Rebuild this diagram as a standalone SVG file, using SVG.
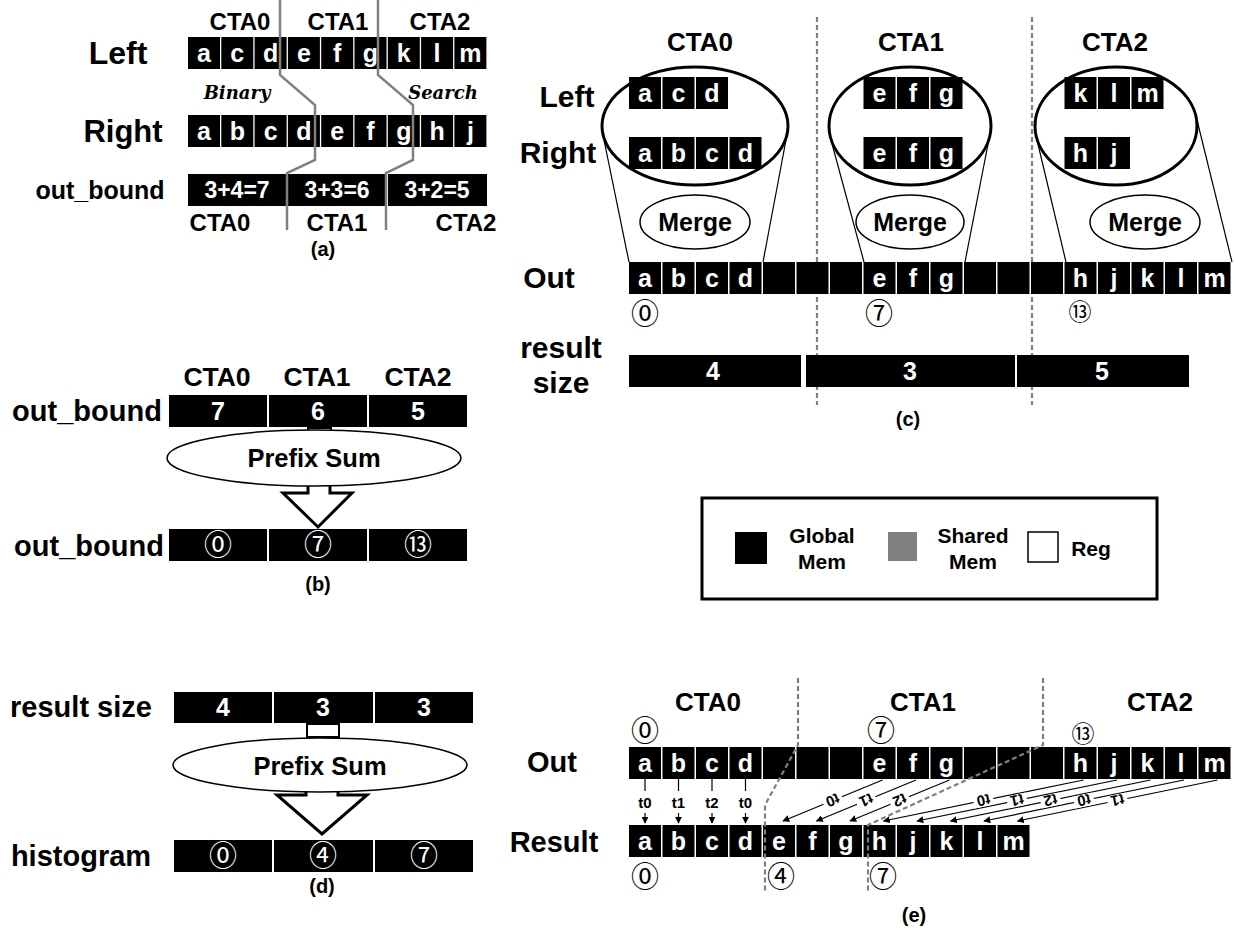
<svg xmlns="http://www.w3.org/2000/svg" width="1235" height="934" viewBox="0 0 1235 934">
<defs>
<style>
text{font-family:"Liberation Sans",Arial,sans-serif;font-weight:bold;fill:#000}
.c{fill:#000}
.w{fill:#fff;font-size:25px;text-anchor:middle}
.m{text-anchor:middle}
.cta{font-size:26px;text-anchor:middle}
.lab{font-size:30px;text-anchor:middle}
.cap{font-size:20px;text-anchor:middle}
.circ{font-family:"Noto Sans CJK JP","DejaVu Serif",serif;font-weight:normal;text-anchor:middle}
.gl{fill:none;stroke:#808080;stroke-width:2.5}
.dash{fill:none;stroke:#808080;stroke-width:2.2;stroke-dasharray:5 3}
.thin{fill:none;stroke:#000;stroke-width:1.2}
.ell{fill:#fff;stroke:#000;stroke-width:1.5}
.big{fill:#fff;stroke:#000;stroke-width:3}
.ar{fill:none;stroke:#000;stroke-width:1.2}
.tl{font-size:15px;text-anchor:middle}
.script{font-family:"DejaVu Serif",serif;font-style:italic;font-weight:bold;font-size:18px;text-anchor:middle}
.leg{font-size:21px;text-anchor:middle}
</style>
<marker id="ah" viewBox="0 0 10 10" refX="9" refY="5" markerWidth="7" markerHeight="7" markerUnits="userSpaceOnUse" orient="auto"><path d="M0,0 L10,5 L0,10 z" fill="#000"/></marker>
</defs>
<rect width="1235" height="934" fill="#fff"/>

<!-- ===== Panel (a) ===== -->
<g id="panel-a">
<text class="cta" style="font-size:24px" x="240" y="30">CTA0</text>
<text class="cta" style="font-size:24px" x="338" y="30">CTA1</text>
<text class="cta" style="font-size:24px" x="440" y="30">CTA2</text>
<text class="lab" style="font-size:32px" x="118" y="64">Left</text>
<text class="lab" style="font-size:31px" x="123" y="142">Right</text>
<text class="m" style="font-size:25px" x="100" y="199">out_bound</text>
<g id="a-left">
<rect class="c" x="188" y="37" width="32" height="32"/><rect class="c" x="221.3" y="37" width="32" height="32"/><rect class="c" x="254.6" y="37" width="32" height="32"/><rect class="c" x="287.9" y="37" width="32" height="32"/><rect class="c" x="321.2" y="37" width="32" height="32"/><rect class="c" x="354.5" y="37" width="32" height="32"/><rect class="c" x="387.8" y="37" width="32" height="32"/><rect class="c" x="421.1" y="37" width="32" height="32"/><rect class="c" x="454.4" y="37" width="32" height="32"/>
<text class="w" x="204" y="62">a</text><text class="w" x="237.3" y="62">c</text><text class="w" x="270.6" y="62">d</text><text class="w" x="303.9" y="62">e</text><text class="w" x="337.2" y="62">f</text><text class="w" x="370.5" y="62">g</text><text class="w" x="403.8" y="62">k</text><text class="w" x="437.1" y="62">l</text><text class="w" x="470.4" y="62">m</text>
</g>
<g id="a-right">
<rect class="c" x="188" y="115" width="32" height="32"/><rect class="c" x="221.3" y="115" width="32" height="32"/><rect class="c" x="254.6" y="115" width="32" height="32"/><rect class="c" x="287.9" y="115" width="32" height="32"/><rect class="c" x="321.2" y="115" width="32" height="32"/><rect class="c" x="354.5" y="115" width="32" height="32"/><rect class="c" x="387.8" y="115" width="32" height="32"/><rect class="c" x="421.1" y="115" width="32" height="32"/><rect class="c" x="454.4" y="115" width="32" height="32"/>
<text class="w" x="204" y="140">a</text><text class="w" x="237.3" y="140">b</text><text class="w" x="270.6" y="140">c</text><text class="w" x="303.9" y="140">d</text><text class="w" x="337.2" y="140">e</text><text class="w" x="370.5" y="140">f</text><text class="w" x="403.8" y="140">g</text><text class="w" x="437.1" y="140">h</text><text class="w" x="470.4" y="140">j</text>
</g>
<g id="a-bound">
<rect class="c" x="188" y="174" width="98" height="32"/><rect class="c" x="288" y="174" width="98" height="32"/><rect class="c" x="388" y="174" width="99" height="32"/>
<text class="w" style="font-size:23px" x="237" y="198">3+4=7</text><text class="w" style="font-size:23px" x="337" y="198">3+3=6</text><text class="w" style="font-size:23px" x="437" y="198">3+2=5</text>
</g>
<text class="script" x="237" y="99">Binary</text>
<text class="script" x="443" y="99">Search</text>
<text class="cta" style="font-size:24px" x="220" y="231">CTA0</text>
<text class="cta" style="font-size:24px" x="337" y="231">CTA1</text>
<text class="cta" style="font-size:24px" x="466" y="231">CTA2</text>
<text class="cap" x="323" y="256">(a)</text>
</g>

<!-- ===== Panel (b) ===== -->
<g id="panel-b">
<text class="cta" style="font-size:26.5px" x="217" y="386">CTA0</text>
<text class="cta" style="font-size:26.5px" x="317" y="386">CTA1</text>
<text class="cta" style="font-size:26.5px" x="418" y="386">CTA2</text>
<text class="m" style="font-size:29px" x="87" y="421">out_bound</text>
<g id="b-row1">
<rect class="c" x="169" y="395" width="98" height="32"/><rect class="c" x="269" y="395" width="98" height="32"/><rect class="c" x="369" y="395" width="98" height="32"/>
<text class="w" style="font-size:25px" x="218" y="420">7</text><text class="w" style="font-size:25px" x="318" y="420">6</text><text class="w" style="font-size:25px" x="418" y="420">5</text>
</g>
<g id="b-prefix">
<rect x="308" y="428" width="23" height="6" fill="#fff" stroke="#000" stroke-width="2"/>
<path class="big" d="M308,484 V493 H283 L318,527 L352,493 H330 V484"/>
<ellipse class="ell" cx="314" cy="458" rx="147" ry="28"/>
<text class="m" style="font-size:25.5px" x="314" y="467">Prefix Sum</text>
</g>
<text class="m" style="font-size:29px" x="89" y="556">out_bound</text>
<g id="b-row2">
<rect class="c" x="169" y="529" width="98" height="32"/><rect class="c" x="269" y="529" width="98" height="32"/><rect class="c" x="369" y="529" width="98" height="32"/>
<text class="circ" style="font-size:28px;fill:#fff" x="218" y="555">⓪</text><text class="circ" style="font-size:28px;fill:#fff" x="318" y="555">⑦</text><text class="circ" style="font-size:28px;fill:#fff" x="418" y="555">⑬</text>
</g>
<text class="cap" x="318" y="591">(b)</text>
</g>

<!-- ===== Panel (c) ===== -->
<g id="panel-c">
<line class="dash" x1="817" y1="17" x2="817" y2="405"/>
<line class="dash" x1="1032" y1="17" x2="1032" y2="405"/>
<text class="cta" x="700" y="51">CTA0</text>
<text class="cta" x="911" y="51">CTA1</text>
<text class="cta" x="1115" y="51">CTA2</text>
<text class="lab" x="567" y="107">Left</text>
<text class="lab" x="558" y="163">Right</text>
<text class="lab" x="549" y="288">Out</text>
<text class="lab" x="561" y="358">result</text>
<text class="lab" x="561" y="393">size</text>
<g class="thin">
<line x1="604" y1="140" x2="629" y2="262"/><line x1="786" y1="140" x2="763" y2="262"/>
<line x1="831" y1="140" x2="864" y2="262"/><line x1="990" y1="134" x2="965" y2="262"/>
<line x1="1037" y1="140" x2="1066" y2="262"/><line x1="1196" y1="116" x2="1232" y2="262"/>
</g>
<g id="c-cta0">
<ellipse cx="695" cy="126" rx="93" ry="59" fill="#fff" stroke="#000" stroke-width="3"/>
<rect class="c" x="629" y="77" width="32" height="32"/><rect class="c" x="662.5" y="77" width="32" height="32"/><rect class="c" x="696" y="77" width="32" height="32"/>
<text class="w" x="645" y="102">a</text><text class="w" x="678.5" y="102">c</text><text class="w" x="712" y="102">d</text>
<rect class="c" x="629" y="137" width="32" height="32"/><rect class="c" x="662.5" y="137" width="32" height="32"/><rect class="c" x="696" y="137" width="32" height="32"/><rect class="c" x="729.5" y="137" width="32" height="32"/>
<text class="w" x="645" y="162">a</text><text class="w" x="678.5" y="162">b</text><text class="w" x="712" y="162">c</text><text class="w" x="745.5" y="162">d</text>
<ellipse class="ell" cx="695" cy="222" rx="55" ry="27"/>
<text class="m" style="font-size:25px" x="695" y="231">Merge</text>
</g>
<g id="c-cta1">
<ellipse cx="910" cy="126" rx="81" ry="59" fill="#fff" stroke="#000" stroke-width="3"/>
<rect class="c" x="863.5" y="77" width="32" height="32"/><rect class="c" x="897" y="77" width="32" height="32"/><rect class="c" x="930.5" y="77" width="32" height="32"/>
<text class="w" x="879.5" y="102">e</text><text class="w" x="913" y="102">f</text><text class="w" x="946.5" y="102">g</text>
<rect class="c" x="863.5" y="137" width="32" height="32"/><rect class="c" x="897" y="137" width="32" height="32"/><rect class="c" x="930.5" y="137" width="32" height="32"/>
<text class="w" x="879.5" y="162">e</text><text class="w" x="913" y="162">f</text><text class="w" x="946.5" y="162">g</text>
<ellipse class="ell" cx="910" cy="222" rx="54" ry="27"/>
<text class="m" style="font-size:25px" x="910" y="231">Merge</text>
</g>
<g id="c-cta2">
<ellipse cx="1116" cy="126" rx="81" ry="59" fill="#fff" stroke="#000" stroke-width="3"/>
<rect class="c" x="1064.5" y="77" width="32" height="32"/><rect class="c" x="1098" y="77" width="32" height="32"/><rect class="c" x="1131.5" y="77" width="32" height="32"/>
<text class="w" x="1080.5" y="102">k</text><text class="w" x="1114" y="102">l</text><text class="w" x="1147.5" y="102">m</text>
<rect class="c" x="1064.5" y="137" width="32" height="32"/><rect class="c" x="1098" y="137" width="32" height="32"/>
<text class="w" x="1080.5" y="162">h</text><text class="w" x="1114" y="162">j</text>
<ellipse class="ell" cx="1145" cy="222" rx="55" ry="27"/>
<text class="m" style="font-size:25px" x="1145" y="231">Merge</text>
</g>
<g id="c-out">
<rect class="c" x="629" y="262" width="32" height="32"/><rect class="c" x="662.5" y="262" width="32" height="32"/><rect class="c" x="696" y="262" width="32" height="32"/><rect class="c" x="729.5" y="262" width="32" height="32"/><rect class="c" x="763" y="262" width="32" height="32"/><rect class="c" x="796.5" y="262" width="32" height="32"/><rect class="c" x="830" y="262" width="32" height="32"/><rect class="c" x="863.5" y="262" width="32" height="32"/><rect class="c" x="897" y="262" width="32" height="32"/><rect class="c" x="930.5" y="262" width="32" height="32"/><rect class="c" x="964" y="262" width="32" height="32"/><rect class="c" x="997.5" y="262" width="32" height="32"/><rect class="c" x="1031" y="262" width="32" height="32"/><rect class="c" x="1064.5" y="262" width="32" height="32"/><rect class="c" x="1098" y="262" width="32" height="32"/><rect class="c" x="1131.5" y="262" width="32" height="32"/><rect class="c" x="1165" y="262" width="32" height="32"/><rect class="c" x="1198.5" y="262" width="32" height="32"/>
<text class="w" x="645" y="287">a</text><text class="w" x="678.5" y="287">b</text><text class="w" x="712" y="287">c</text><text class="w" x="745.5" y="287">d</text><text class="w" x="879.5" y="287">e</text><text class="w" x="913" y="287">f</text><text class="w" x="946.5" y="287">g</text><text class="w" x="1080.5" y="287">h</text><text class="w" x="1114" y="287">j</text><text class="w" x="1147.5" y="287">k</text><text class="w" x="1181" y="287">l</text><text class="w" x="1214.5" y="287">m</text>
</g>
<text class="circ" style="font-size:28px" x="645" y="324">⓪</text>
<text class="circ" style="font-size:28px" x="879" y="324">⑦</text>
<text class="circ" style="font-size:23px" x="1080" y="320">⑬</text>
<g id="c-size">
<rect class="c" x="629" y="355" width="172" height="32"/><rect class="c" x="806" y="355" width="209" height="32"/><rect class="c" x="1017" y="355" width="172" height="32"/>
<text class="w" x="713" y="380">4</text><text class="w" x="910" y="380">3</text><text class="w" x="1102" y="380">5</text>
</g>
<text class="cap" x="908" y="426">(c)</text>
</g>

<!-- ===== Legend ===== -->
<g id="legend">
<rect x="702" y="498" width="455" height="101" fill="#fff" stroke="#000" stroke-width="3"/>
<rect x="735" y="532" width="32" height="32" fill="#000"/>
<text class="leg" x="822" y="543">Global</text>
<text class="leg" x="822" y="569">Mem</text>
<rect x="888" y="532" width="29" height="29" fill="#808080"/>
<text class="leg" x="973" y="543">Shared</text>
<text class="leg" x="973" y="569">Mem</text>
<rect x="1028" y="532" width="30" height="30" fill="#fff" stroke="#000" stroke-width="1.5"/>
<text class="leg" x="1091" y="556">Reg</text>
</g>

<!-- ===== Panel (d) ===== -->
<g id="panel-d">
<text class="m" style="font-size:29px" x="81" y="717">result size</text>
<g id="d-row1">
<rect class="c" x="174" y="692" width="98" height="31"/><rect class="c" x="274" y="692" width="99" height="31"/><rect class="c" x="375" y="692" width="98" height="31"/>
<text class="w" style="font-size:25px" x="223" y="716">4</text><text class="w" style="font-size:25px" x="323" y="716">3</text><text class="w" style="font-size:25px" x="424" y="716">3</text>
</g>
<g id="d-prefix">
<rect x="307" y="724" width="32" height="13" fill="#fff" stroke="#000" stroke-width="2"/>
<path class="big" d="M306,789 V795 H277 L322,834 L367,795 H338 V789"/>
<ellipse class="ell" cx="320" cy="765" rx="147" ry="27"/>
<text class="m" style="font-size:25.5px" x="320" y="775">Prefix Sum</text>
</g>
<text class="m" style="font-size:29px" x="81" y="866">histogram</text>
<g id="d-row2">
<rect class="c" x="174" y="840" width="98" height="32"/><rect class="c" x="274" y="840" width="99" height="32"/><rect class="c" x="375" y="840" width="98" height="32"/>
<text class="circ" style="font-size:28px;fill:#fff" x="223" y="866">⓪</text><text class="circ" style="font-size:28px;fill:#fff" x="323" y="866">④</text><text class="circ" style="font-size:28px;fill:#fff" x="424" y="866">⑦</text>
</g>
<text class="cap" x="322" y="893">(d)</text>
</g>

<!-- ===== Panel (e) ===== -->
<g id="panel-e">
<text class="cta" x="708" y="711">CTA0</text>
<text class="cta" x="923" y="711">CTA1</text>
<text class="cta" x="1160" y="711">CTA2</text>
<text class="lab" style="font-size:29px" x="552" y="772">Out</text>
<text class="lab" style="font-size:29px" x="554" y="852">Result</text>
<g id="e-out">
<rect class="c" x="629" y="747" width="32" height="32"/><rect class="c" x="662.5" y="747" width="32" height="32"/><rect class="c" x="696" y="747" width="32" height="32"/><rect class="c" x="729.5" y="747" width="32" height="32"/><rect class="c" x="763" y="747" width="32" height="32"/><rect class="c" x="796.5" y="747" width="32" height="32"/><rect class="c" x="830" y="747" width="32" height="32"/><rect class="c" x="863.5" y="747" width="32" height="32"/><rect class="c" x="897" y="747" width="32" height="32"/><rect class="c" x="930.5" y="747" width="32" height="32"/><rect class="c" x="964" y="747" width="32" height="32"/><rect class="c" x="997.5" y="747" width="32" height="32"/><rect class="c" x="1031" y="747" width="32" height="32"/><rect class="c" x="1064.5" y="747" width="32" height="32"/><rect class="c" x="1098" y="747" width="32" height="32"/><rect class="c" x="1131.5" y="747" width="32" height="32"/><rect class="c" x="1165" y="747" width="32" height="32"/><rect class="c" x="1198.5" y="747" width="32" height="32"/>
<text class="w" x="645" y="772">a</text><text class="w" x="678.5" y="772">b</text><text class="w" x="712" y="772">c</text><text class="w" x="745.5" y="772">d</text><text class="w" x="879.5" y="772">e</text><text class="w" x="913" y="772">f</text><text class="w" x="946.5" y="772">g</text><text class="w" x="1080.5" y="772">h</text><text class="w" x="1114" y="772">j</text><text class="w" x="1147.5" y="772">k</text><text class="w" x="1181" y="772">l</text><text class="w" x="1214.5" y="772">m</text>
</g>
<g id="e-result">
<rect class="c" x="629" y="825" width="32" height="32"/><rect class="c" x="662.5" y="825" width="32" height="32"/><rect class="c" x="696" y="825" width="32" height="32"/><rect class="c" x="729.5" y="825" width="32" height="32"/><rect class="c" x="763" y="825" width="32" height="32"/><rect class="c" x="796.5" y="825" width="32" height="32"/><rect class="c" x="830" y="825" width="32" height="32"/><rect class="c" x="863.5" y="825" width="32" height="32"/><rect class="c" x="897" y="825" width="32" height="32"/><rect class="c" x="930.5" y="825" width="32" height="32"/><rect class="c" x="964" y="825" width="32" height="32"/><rect class="c" x="997.5" y="825" width="32" height="32"/>
<text class="w" x="645" y="850">a</text><text class="w" x="678.5" y="850">b</text><text class="w" x="712" y="850">c</text><text class="w" x="745.5" y="850">d</text><text class="w" x="779" y="850">e</text><text class="w" x="812.5" y="850">f</text><text class="w" x="846" y="850">g</text><text class="w" x="879.5" y="850">h</text><text class="w" x="913" y="850">j</text><text class="w" x="946.5" y="850">k</text><text class="w" x="980" y="850">l</text><text class="w" x="1013.5" y="850">m</text>
</g>
<text class="circ" style="font-size:28px" x="645" y="741">⓪</text>
<text class="circ" style="font-size:28px" x="881" y="741">⑦</text>
<text class="circ" style="font-size:23px" x="1083" y="742">⑬</text>
<text class="circ" style="font-size:28px" x="645" y="887">⓪</text>
<text class="circ" style="font-size:28px" x="781" y="887">④</text>
<text class="circ" style="font-size:28px" x="883" y="887">⑦</text>
<text class="cap" x="914" y="922">(e)</text>
</g>

<!-- ===== Connectors ===== -->
<g id="connectors">
<polyline class="gl" points="280,0 280,75 315,105 315,160 287,173 287,230"/>
<polyline class="gl" points="378,0 378,75 413,105 413,160 386,173 386,230"/>
<polyline class="dash" points="798,678 798,745 765,805 765,893"/>
<polyline class="dash" points="1043,678 1043,745 868,825 868,893"/>
<g class="ar">
<line x1="645" y1="779" x2="645" y2="791"/><line x1="678.5" y1="779" x2="678.5" y2="791"/><line x1="712" y1="779" x2="712" y2="791"/><line x1="745.5" y1="779" x2="745.5" y2="791"/>
<line x1="645" y1="813" x2="645" y2="823" marker-end="url(#ah)"/><line x1="678.5" y1="813" x2="678.5" y2="823" marker-end="url(#ah)"/><line x1="712" y1="813" x2="712" y2="823" marker-end="url(#ah)"/><line x1="745.5" y1="813" x2="745.5" y2="823" marker-end="url(#ah)"/>
<line x1="882.5" y1="780" x2="783" y2="821" marker-end="url(#ah)"/>
<line x1="916" y1="780" x2="816.5" y2="821" marker-end="url(#ah)"/>
<line x1="949.5" y1="780" x2="850" y2="821" marker-end="url(#ah)"/>
<line x1="1083.5" y1="780" x2="883.5" y2="821" marker-end="url(#ah)"/>
<line x1="1117" y1="780" x2="917" y2="821" marker-end="url(#ah)"/>
<line x1="1150.5" y1="780" x2="950.5" y2="821" marker-end="url(#ah)"/>
<line x1="1184" y1="780" x2="984" y2="821" marker-end="url(#ah)"/>
<line x1="1217.5" y1="780" x2="1017.5" y2="821" marker-end="url(#ah)"/>
</g>
<text class="tl" x="645" y="808">t0</text><text class="tl" x="678.5" y="808">t1</text><text class="tl" x="712" y="808">t2</text><text class="tl" x="745.5" y="808">t0</text>
<g transform="translate(832.75,800.5) rotate(157.6)"><rect x="-10" y="-6" width="20" height="12" fill="#fff"/><text class="tl" y="5.5">t0</text></g>
<g transform="translate(866.25,800.5) rotate(157.6)"><rect x="-10" y="-6" width="20" height="12" fill="#fff"/><text class="tl" y="5.5">t1</text></g>
<g transform="translate(899.75,800.5) rotate(157.6)"><rect x="-10" y="-6" width="20" height="12" fill="#fff"/><text class="tl" y="5.5">t2</text></g>
<g transform="translate(983.5,800.5) rotate(168.4)"><rect x="-10" y="-6" width="20" height="12" fill="#fff"/><text class="tl" y="5.5">t0</text></g>
<g transform="translate(1017,800.5) rotate(168.4)"><rect x="-10" y="-6" width="20" height="12" fill="#fff"/><text class="tl" y="5.5">t1</text></g>
<g transform="translate(1050.5,800.5) rotate(168.4)"><rect x="-10" y="-6" width="20" height="12" fill="#fff"/><text class="tl" y="5.5">t2</text></g>
<g transform="translate(1084,800.5) rotate(168.4)"><rect x="-10" y="-6" width="20" height="12" fill="#fff"/><text class="tl" y="5.5">t0</text></g>
<g transform="translate(1117.5,800.5) rotate(168.4)"><rect x="-10" y="-6" width="20" height="12" fill="#fff"/><text class="tl" y="5.5">t1</text></g>
</g>
</svg>
